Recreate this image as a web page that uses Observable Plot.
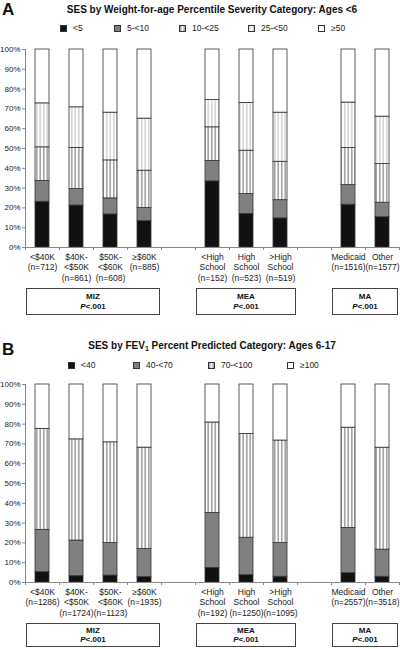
<!DOCTYPE html>
<html><head><meta charset="utf-8">
<script src="https://cdn.jsdelivr.net/npm/d3@7"></script>
<script src="https://cdn.jsdelivr.net/npm/@observablehq/plot@0.6"></script>
<style>
body{margin:0;background:#fff;font-family:"Liberation Sans",Arial,sans-serif;color:#111;}
#root{position:relative;width:400px;height:649px;overflow:hidden;background:#fff;}
.letter{position:absolute;left:2px;font-weight:bold;font-size:17px;line-height:17px;}
.title{position:absolute;left:212px;transform:translateX(-50%);white-space:nowrap;font-weight:bold;font-size:10px;line-height:12px;}
.title sub{font-size:7px;vertical-align:-2px;line-height:0;}
.sw{position:absolute;width:7px;height:7px;line-height:0;}
.sw svg{display:block;}
.lt{position:absolute;font-size:8.5px;line-height:10px;white-space:nowrap;color:#222;}
.box{position:absolute;border:1px solid #444;background:#fff;box-sizing:border-box;display:flex;flex-direction:column;justify-content:center;align-items:center;font-weight:bold;font-size:8px;line-height:9.5px;color:#111;}
</style></head><body>
<svg width="0" height="0" style="position:absolute">
<defs>
<pattern id="stripeDark" patternUnits="userSpaceOnUse" width="3.5" height="4"><rect width="3.5" height="4" fill="#fff"/><line x1="1.75" y1="0" x2="1.75" y2="4" stroke="#666" stroke-width="1"/></pattern>
<pattern id="stripeLight" patternUnits="userSpaceOnUse" width="3.5" height="4"><rect width="3.5" height="4" fill="#fff"/><line x1="1.75" y1="0" x2="1.75" y2="4" stroke="#bbb" stroke-width="1"/></pattern>
</defs></svg>
<div id="root"></div>
<script>
// ---------- shared ----------
const groups = ["MIZ", "MEA", "MA"];
const groupOf = ["MIZ","MIZ","MIZ","MIZ","MEA","MEA","MEA","MA","MA"];
const groupP = ["P<.001", "P<.001", "P<.001"];
const yTicks = [0,10,20,30,40,50,60,70,80,90,100];

// ---------- Panel A ----------
const titleA = "SES by Weight-for-age Percentile Severity Category: Ages <6";
const labelsA = ["<$40K\n(n=712)", "$40K-\n<$50K\n(n=861)", "$50K-\n<$60K\n(n=608)", "≥$60K\n(n=885)",
  "<High\nSchool\n(n=152)", "High\nSchool\n(n=523)", ">High\nSchool\n(n=519)", "Medicaid\n(n=1516)", "Other\n(n=1577)"];
const seriesA = ["<5", "5-<10", "10-<25", "25-<50", "≥50"];
const a_lt5    = [23.1, 21.2, 16.7, 13.3, 33.4, 16.9, 14.7, 21.6, 15.3];
const a_5to10  = [10.5,  8.3,  8.1,  6.6, 10.3, 10.1,  9.2,  9.9,  7.3];
const a_10to25 = [17.0, 20.8, 19.2, 18.9, 17.0, 21.9, 19.4, 18.8, 19.6];
const a_25to50 = [22.2, 20.5, 24.1, 26.3, 13.8, 24.1, 24.8, 22.9, 23.9];
const a_ge50   = [27.2, 29.2, 31.9, 34.9, 25.5, 27.0, 31.9, 26.8, 33.9];
const fillsA = ["#111", "#808080", "url(#stripeDark)", "url(#stripeLight)", "#fff"];

// ---------- Panel B ----------
const titleBHtml = "SES by FEV<sub>1</sub> Percent Predicted Category: Ages 6-17";
const labelsB = ["<$40K\n(n=1286)", "$40K-\n<$50K\n(n=1724)", "$50K-\n<$60K\n(n=1123)", "≥$60K\n(n=1935)",
  "<High\nSchool\n(n=192)", "High\nSchool\n(n=1250)", ">High\nSchool\n(n=1095)", "Medicaid\n(n=2557)", "Other\n(n=3518)"];
const seriesB = ["<40", "40-<70", "70-<100", "≥100"];
const b_lt40    = [ 5.2,  3.2,  3.5,  2.7,  7.3,  3.7,  2.9,  4.7,  2.9];
const b_40to70  = [21.4, 18.0, 16.4, 14.2, 27.8, 18.9, 17.0, 22.8, 13.7];
const b_70to100 = [51.0, 51.1, 50.9, 51.2, 45.7, 52.4, 51.8, 50.7, 51.5];
const b_ge100   = [22.4, 27.7, 29.2, 31.9, 19.2, 25.0, 28.3, 21.8, 31.9];
const fillsB = ["#111", "#808080", "url(#stripeDark)", "#fff"];

// slot positions (one empty slot between groups)
function slotIndex(gs) {
  let s = -1, prev = null;
  return gs.map(g => { if (prev !== null && g !== prev) s++; prev = g; return ++s; });
}
const slots = slotIndex(groupOf);
const nSlots = slots[slots.length - 1] + 1;

const root = document.getElementById("root");
function add(html, cls, style) {
  const d = document.createElement("div");
  d.className = cls; d.innerHTML = html; Object.assign(d.style, style); root.appendChild(d); return d;
}

function drawPanel(cfg) {
  add(cfg.letter, "letter", {top: cfg.letterTop + "px"});
  add(cfg.title, "title", {top: cfg.titleTop + "px"});
  cfg.series.forEach((s, i) => {
    add(`<svg width="7" height="7"><rect x="0.5" y="0.5" width="6" height="6" fill="${cfg.fills[i]}" stroke="#333" stroke-width="1"/></svg>`,
      "sw", {left: cfg.legX[i] + "px", top: (cfg.legY - 3.5) + "px"});
    const t = add("", "lt", {left: (cfg.legX[i] + 13) + "px", top: (cfg.legY - 5.5) + "px"});
    t.textContent = s;
  });
  const data = [];
  cfg.series.forEach((s, si) => cfg.values[si].forEach((v, ci) => data.push({slot: slots[ci], series: s, value: v})));
  const labelData = cfg.labels.map((l, i) => ({slot: slots[i], label: l}));
  const plot = Plot.plot({
    width: 400, height: cfg.height,
    marginLeft: 25, marginRight: 1, marginTop: cfg.marginTop, marginBottom: cfg.marginBottom,
    style: {fontFamily: "'Liberation Sans', Arial, sans-serif", fontSize: "8px", background: "transparent", overflow: "visible"},
    x: {domain: [0, nSlots]},
    y: {domain: [0, 100]},
    color: {type: "ordinal", domain: cfg.series, range: cfg.fills},
    marks: [
      Plot.rectY(data, {x: "slot", interval: 1, y: "value", fill: "series", stroke: "#333", strokeWidth: 0.8, insetLeft: 10, insetRight: 10}),
      Plot.axisY({ticks: yTicks, tickFormat: d => d + "%", tickSize: 3, tickPadding: 2, stroke: "#888", fill: "#222", fontSize: 8, label: null}),
      Plot.axisX({ticks: d3.range(0, nSlots + 1), tickFormat: () => "", tickSize: 3, stroke: "#888", label: null}),
      Plot.ruleX([0], {stroke: "#888"}),
      Plot.ruleY([0], {stroke: "#888"}),
      Plot.text(labelData, {x: d => d.slot + 0.5, y: 0, text: "label", lineAnchor: "top", dy: 5, fontSize: 8.5, lineHeight: 1.22, fill: "#222"})
    ]
  });
  plot.style.position = "absolute";
  plot.style.left = "0px";
  plot.style.top = cfg.top + "px";
  root.appendChild(plot);
  const x = plot.scale("x");
  groups.forEach((g, gi) => {
    const ss = slots.filter((s, i) => groupOf[i] === g);
    const x1 = x.apply(d3.min(ss)) + 1, x2 = x.apply(d3.max(ss) + 1) - 1;
    add(`<div>${g}</div><div><i>P</i>${groupP[gi].slice(1).replace("<", "&lt;")}</div>`, "box",
      {left: x1 + "px", width: (x2 - x1) + "px", top: cfg.boxTop + "px", height: cfg.boxH + "px"});
  });
}

drawPanel({letter: "A", letterTop: 1, title: titleA.replace("<", "&lt;"), titleTop: 4,
  series: seriesA, values: [a_lt5, a_5to10, a_10to25, a_25to50, a_ge50], fills: fillsA,
  legX: [60, 114, 179, 248, 318], legY: 28,
  labels: labelsA, top: 0, height: 325, marginTop: 49, marginBottom: 78, boxTop: 288, boxH: 27});

drawPanel({letter: "B", letterTop: 341, title: titleBHtml, titleTop: 340,
  series: seriesB, values: [b_lt40, b_40to70, b_70to100, b_ge100], fills: fillsB,
  legX: [68, 133, 208, 287], legY: 365,
  labels: labelsB, top: 330, height: 319, marginTop: 54, marginBottom: 67, boxTop: 623, boxH: 24});
</script></body></html>
